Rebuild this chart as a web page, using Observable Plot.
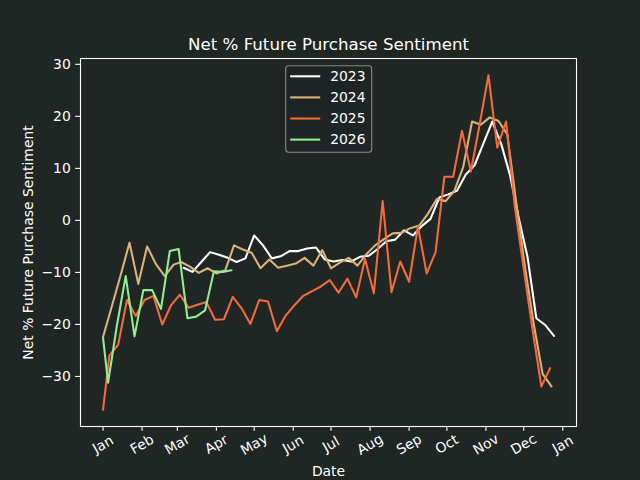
<!DOCTYPE html>
<html>
<head>
<meta charset="utf-8">
<script src="https://cdn.jsdelivr.net/npm/d3@7"></script>
<script src="https://cdn.jsdelivr.net/npm/@observablehq/plot@0.6"></script>
<style>
  html, body { margin: 0; padding: 0; background: #1f2624; }
  #chart svg { display: block; }
</style>
</head>
<body>
<div id="chart"></div>
<script>
// ---- Data (dates are month-day, plotted on a common year) ----
const seriesNames = ["2023", "2024", "2025", "2026"];
const seriesColors = ["#ffffff", "#d9b37a", "#f26b3c", "#90ee90"];

const dates2023 = ["03-06","03-13","03-20","03-27","04-03","04-10","04-17","04-24","05-01","05-08","05-15","05-22","05-29","06-05","06-12","06-19","06-26","07-03","07-10","07-17","07-24","07-31","08-07","08-14","08-21","08-28","09-04","09-11","09-18","09-25","10-02","10-09","10-16","10-23","10-30","11-06","11-13","11-20","11-27","12-04","12-11","12-18","12-25"];
const values2023 = [-9.1,-9.9,-8.0,-6.1,-6.6,-7.2,-8.0,-7.3,-2.9,-4.8,-7.3,-6.9,-5.9,-5.9,-5.4,-5.2,-7.5,-7.9,-7.6,-7.9,-7.0,-6.8,-5.5,-4.0,-3.7,-1.9,-2.9,-1.1,0.3,4.4,5.0,5.7,8.8,10.6,14.8,19.0,14.8,8.8,0.5,-7.0,-18.8,-20.1,-22.2];

const dates2024 = ["01-01","01-08","01-15","01-22","01-29","02-05","02-12","02-19","02-26","03-04","03-11","03-18","03-25","04-01","04-08","04-15","04-22","04-29","05-06","05-13","05-20","05-27","06-03","06-10","06-17","06-24","07-01","07-08","07-15","07-22","07-29","08-05","08-12","08-19","08-26","09-02","09-09","09-16","09-23","09-30","10-07","10-14","10-21","10-28","11-04","11-11","11-18","11-25","12-02","12-09","12-16","12-23"];
const values2024 = [-22.4,-16.5,-10.5,-4.3,-12.2,-5.0,-8.4,-10.7,-8.5,-8.0,-8.9,-10.1,-9.2,-10.2,-9.6,-4.8,-5.6,-6.2,-9.2,-7.5,-9.1,-8.7,-8.3,-7.2,-8.7,-5.7,-9.2,-8.1,-7.2,-8.7,-6.5,-4.8,-3.6,-2.5,-2.4,-1.5,-1.0,1.3,4.1,3.7,5.7,10.3,19.0,18.4,19.8,19.1,16.5,3.5,-9.0,-20.0,-29.5,-31.9];

const dates2025 = ["01-01","01-06","01-13","01-20","01-27","02-03","02-10","02-17","02-24","03-03","03-10","03-17","03-24","03-31","04-07","04-14","04-21","04-28","05-05","05-12","05-19","05-26","06-02","06-09","06-16","06-23","06-30","07-07","07-14","07-21","07-28","08-04","08-11","08-18","08-25","09-01","09-08","09-15","09-22","09-29","10-06","10-13","10-20","10-27","11-03","11-10","11-17","11-24","12-01","12-08","12-15","12-22"];
const values2025 = [-36.4,-26.0,-23.9,-15.3,-18.4,-15.3,-14.5,-20.0,-16.3,-14.3,-16.8,-16.2,-15.7,-19.1,-19.0,-14.7,-16.9,-19.9,-15.3,-15.6,-21.3,-18.3,-16.3,-14.5,-13.6,-12.7,-11.5,-13.9,-11.2,-14.8,-7.4,-14.0,3.7,-13.8,-7.9,-11.8,-1.2,-10.2,-6.1,8.4,8.4,17.2,9.4,18.4,27.9,14.0,19.0,2.5,-9.3,-21.0,-31.9,-28.4];

const dates2026 = ["01-01","01-05","01-12","01-19","01-26","02-02","02-09","02-16","02-23","03-02","03-09","03-16","03-23","03-30","04-06","04-13"];
const values2026 = [-22.6,-31.2,-20.2,-10.7,-22.3,-13.4,-13.4,-17.0,-5.9,-5.5,-18.8,-18.5,-17.3,-9.8,-9.9,-9.6];

const monthTickDates = ["2023-01-01","2023-02-01","2023-03-01","2023-04-01","2023-05-01","2023-06-01","2023-07-01","2023-08-01","2023-09-01","2023-10-01","2023-11-01","2023-12-01","2024-01-01"];
const monthLabels = ["Jan","Feb","Mar","Apr","May","Jun","Jul","Aug","Sep","Oct","Nov","Dec","Jan"];
const yTicks = [-30, -20, -10, 0, 10, 20, 30];

// ---- Build table ----
const parse = d3.utcParse("%Y-%m-%d");
const baseYear = "2023-";
const allDates = [dates2023, dates2024, dates2025, dates2026];
const allValues = [values2023, values2024, values2025, values2026];
const rows = [];
seriesNames.forEach((name, s) => {
  allDates[s].forEach((md, i) => {
    rows.push({series: name, date: parse(baseYear + md), value: allValues[s][i]});
  });
});
const ticks = monthTickDates.map(parse);

// matplotlib-like 5% margins
const xExt = d3.extent(rows, d => d.date);
const xPad = (xExt[1] - xExt[0]) * 0.05;
const xDomain = [new Date(+xExt[0] - xPad), new Date(+xExt[1] + xPad)];
const yExt = d3.extent(rows, d => d.value);
const yPad = (yExt[1] - yExt[0]) * 0.05;
const yDomain = [yExt[0] - yPad, yExt[1] + yPad];

const bg = "#1f2624";
const font = "DejaVu Sans, sans-serif";

const chart = Plot.plot({
  width: 640,
  height: 480,
  marginLeft: 80,
  marginRight: 64,
  marginTop: 58,
  marginBottom: 54,
  style: {background: bg, color: "#ffffff", fontFamily: font, fontSize: "13.9px"},
  x: {type: "utc", domain: xDomain},
  y: {domain: yDomain},
  color: {domain: seriesNames, range: seriesColors},
  marks: [
    Plot.lineY(rows, {x: "date", y: "value", stroke: "series", strokeWidth: 2.08}),
    Plot.frame({stroke: "#ffffff", strokeWidth: 1.1}),
    Plot.axisX({ticks: ticks, tickSize: 4.86, tickFormat: () => "", label: null, strokeWidth: 1.1}),
    Plot.text(ticks, {x: d => d, text: (d, i) => monthLabels[i], frameAnchor: "bottom", dy: 18, rotate: -30,
      textAnchor: "middle", lineAnchor: "middle", fill: "#ffffff", fontSize: 13.9}),
    Plot.axisY({ticks: yTicks, tickSize: 4.86, tickPadding: 4.86, label: null, fontSize: 13.9, strokeWidth: 1.1}),
    Plot.text(["Net % Future Purchase Sentiment"], {frameAnchor: "top", dy: -8.3, lineAnchor: "bottom",
      fontSize: 16.67, fill: "#ffffff"}),
    Plot.text(["Date"], {frameAnchor: "bottom", dy: 45, lineAnchor: "middle", fontSize: 13.9, fill: "#ffffff"}),
    Plot.text(["Net % Future Purchase Sentiment"], {frameAnchor: "left", dx: -52, rotate: -90,
      textAnchor: "middle", lineAnchor: "middle", fontSize: 13.9, fill: "#ffffff"})
  ]
});

// ---- Legend (matplotlib style) ----
const svg = d3.select(chart);
const lg = svg.append("g").attr("font-family", font).attr("font-size", "13.9px").attr("text-anchor", "start");
const lx = 285.7, ly = 65.7, rowH = 21.1;
lg.append("rect").attr("x", lx).attr("y", ly).attr("width", 86).attr("height", 86.6)
  .attr("rx", 3).attr("fill", bg).attr("fill-opacity", 0.8)
  .attr("stroke", "#8a8a8a").attr("stroke-width", 1.1);
seriesNames.forEach((name, i) => {
  const cy = ly + 10.6 + i * rowH;
  lg.append("line").attr("x1", lx + 4.5).attr("x2", lx + 34.5).attr("y1", cy).attr("y2", cy)
    .attr("stroke", seriesColors[i]).attr("stroke-width", 2.08);
  lg.append("text").attr("x", lx + 44.5).attr("y", cy).attr("dy", "0.35em")
    .attr("text-anchor", "start").attr("fill", "#ffffff").text(name);
});

document.getElementById("chart").appendChild(chart);
</script>
</body>
</html>
